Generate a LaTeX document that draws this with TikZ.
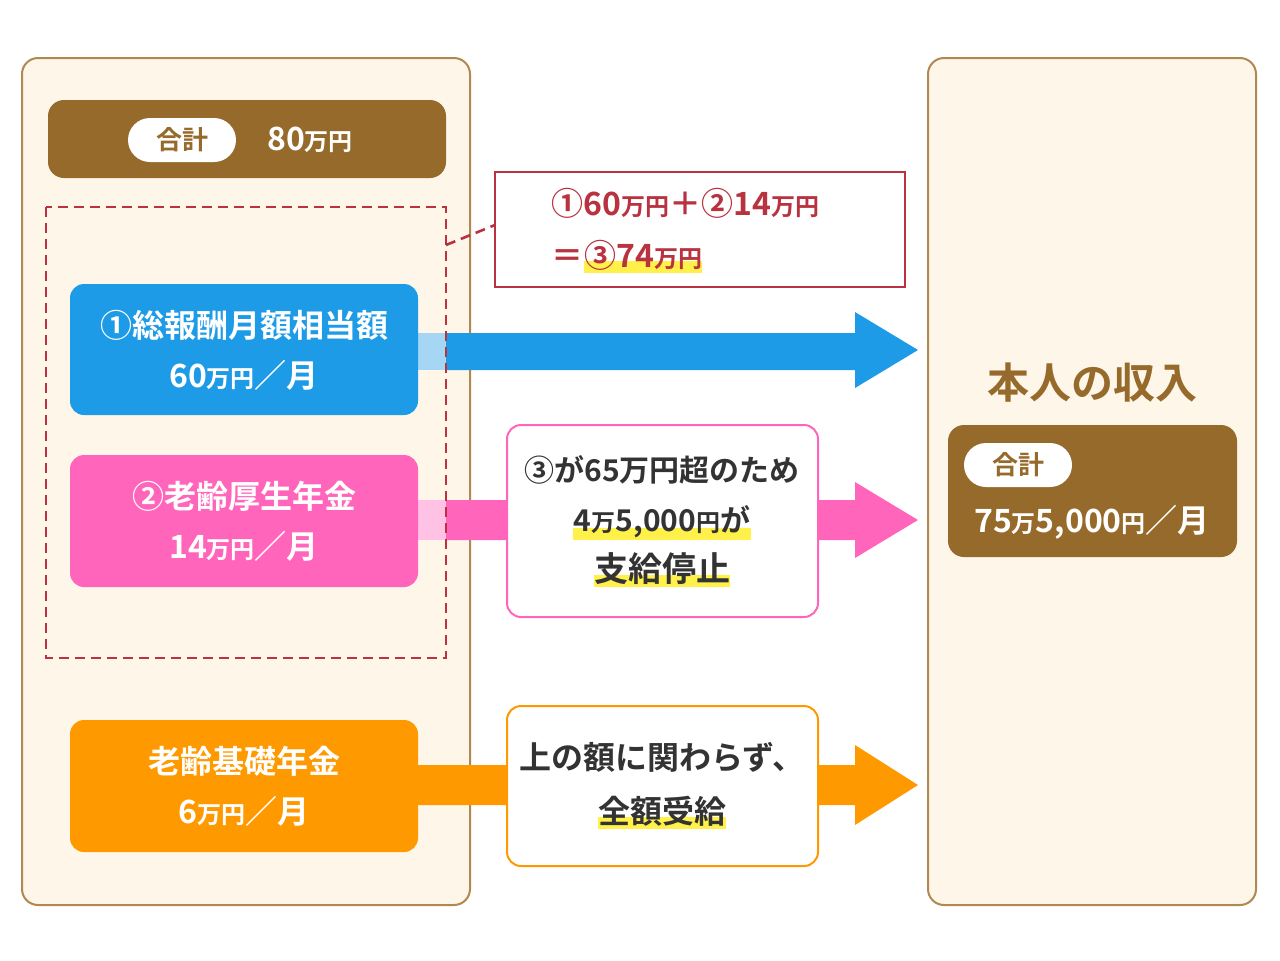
\documentclass[tikz,border=0pt]{standalone}
\usepackage{fontspec}
\usepackage{xcolor}
\setmainfont{Noto Sans CJK JP}[BoldFont={Noto Sans CJK JP Bold}]
\usetikzlibrary{positioning}
\definecolor{cream}{HTML}{FDF6E9}
\definecolor{brownline}{HTML}{B08850}
\definecolor{brownfill}{HTML}{956A2B}
\definecolor{redline}{HTML}{B8323F}
\definecolor{bluefill}{HTML}{1E9BE6}
\definecolor{pinkfill}{HTML}{FF66BB}
\definecolor{orangefill}{HTML}{FF9900}
\definecolor{hilite}{HTML}{FFF04A}
\newcommand{\man}[1]{{\fontsize{12}{12}\selectfont #1}}
\newcommand{\hl}[1]{\tikz[baseline=(t.base)]{\node[inner sep=0pt](t){\phantom{#1}};
  \fill[hilite] ([yshift=-1pt]t.south west) rectangle ([yshift=5pt]t.south east);
  \node[inner sep=0pt] at (t){#1};}}

\begin{document}
\begin{tikzpicture}[x=0.5pt,y=-0.5pt,font=\bfseries,
    panel/.style={draw=brownline,line width=1pt,fill=cream,rounded corners=8pt},
    item/.style={rounded corners=7pt,text=white,align=center,font=\bfseries\fontsize{16}{25}\selectfont},
    note/.style={draw,line width=1pt,fill=white,rounded corners=7pt},
    group/.style={redline,dash pattern=on 5pt off 3pt,line width=1.3pt}]
\useasboundingbox (0,0) rectangle (1280,960);

    % panels
    \draw[panel] (22,58) rectangle (470,905);
    \draw[panel] (928,58) rectangle (1256,905);

    % total bar, left
    \fill[brownfill,rounded corners=8pt] (48,100) rectangle (446,178);
    \fill[white,rounded corners=11pt] (128,118) rectangle (236,162);
    \node[text=brownfill,font=\bfseries\fontsize{13}{13}\selectfont] (sumL) at (182,140) {合計};
    \node[text=white,font=\bfseries\fontsize{16}{16}\selectfont] (sumLval) at (310,140) {80\man{万円}};

    % arrows
    \fill[bluefill!40] (418,333) rectangle (446,370);
    \fill[bluefill] (446,333) -- (855,333) -- (855,312) -- (918,350) -- (855,388) -- (855,370) -- (446,370) -- cycle;
    \fill[pinkfill!40] (418,500) rectangle (446,540);
    \fill[pinkfill] (446,500) -- (855,500) -- (855,482) -- (918,520) -- (855,558) -- (855,540) -- (446,540) -- cycle;
    \fill[orangefill] (418,765) -- (855,765) -- (855,745) -- (918,785) -- (855,825) -- (855,805) -- (418,805) -- cycle;

    % items
    \path[item,fill=bluefill] (70,284) rectangle (418,415);
    \node[item] (kyuyo) at (244,350) {①総報酬月額相当額\\60\man{万円}／月};
    \path[item,fill=pinkfill] (70,455) rectangle (418,587);
    \node[item] (kosei) at (244,521) {②老齢厚生年金\\14\man{万円}／月};
    \path[item,fill=orangefill] (70,720) rectangle (418,852);
    \node[item] (kiso) at (244,786) {老齢基礎年金\\6\man{万円}／月};

    % dashed group and callout
    \draw[group] (46,207) rectangle (446,658);
    \coordinate (cornerA) at (446,245);
    \draw[redline,line width=1pt,fill=white] (495,172) rectangle (905,287);
    \coordinate (calloutA) at (495,225);
    \draw[group] (cornerA) -- (calloutA);
    \node[text=redline,align=left,font=\bfseries\fontsize{16}{26}\selectfont] (sumcalc) at (702,231)
        {①60\man{万円}＋②14\man{万円}\\＝\hl{③74\man{万円}}\hphantom{＋②14\man{万円}}};

    % notes
    \path[note,draw=pinkfill] (507,425) rectangle (818,617);
    \node[align=center,font=\bfseries\fontsize{15}{25}\selectfont,text=black!80] (stop) at (662,521)
        {③が65万円超のため\\\hl{4\man{万}5,000\man{円}が}\\\hl{\fontsize{17}{17}\selectfont 支給停止}};
    \path[note,draw=orangefill] (507,706) rectangle (818,866);
    \node[align=center,font=\bfseries\fontsize{16}{27}\selectfont,text=black!80] (full) at (662,786)
        {上の額に関わらず、\\\hl{全額受給}};

    % right side
    \node[text=brownfill,font=\bfseries\fontsize{21}{21}\selectfont] (income) at (1092,383) {本人の収入};
    \fill[brownfill,rounded corners=8pt] (948,425) rectangle (1237,557);
    \fill[white,rounded corners=11pt] (964,443) rectangle (1072,487);
    \node[text=brownfill,font=\bfseries\fontsize{13}{13}\selectfont] (sumR) at (1018,465) {合計};
    \node[text=white,font=\bfseries\fontsize{16}{16}\selectfont] (sumRval) at (1092,522) {75\man{万}5,000\man{円}／月};
\end{tikzpicture}
\end{document}
